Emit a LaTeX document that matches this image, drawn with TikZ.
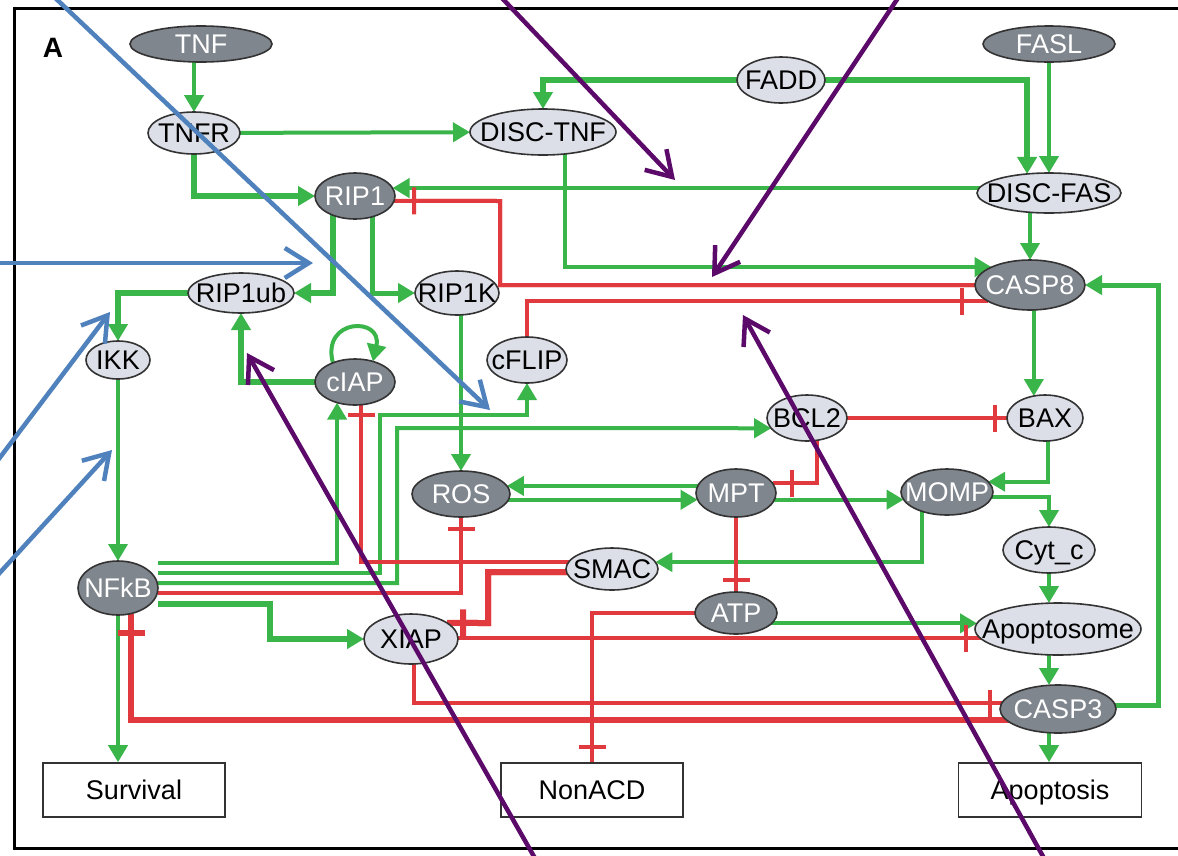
\documentclass[tikz,border=0pt]{standalone}
\usepackage{fontspec}
\setmainfont{Liberation Sans}
\usetikzlibrary{arrows.meta,shapes.geometric}
\pgfdeclarelayer{bg}
\pgfdeclarelayer{paper}
\pgfsetlayers{paper,bg,main}
\definecolor{gr}{RGB}{58,181,74}
\definecolor{rd}{RGB}{224,58,62}
\definecolor{darkfill}{RGB}{128,134,142}
\definecolor{lightfill}{RGB}{220,223,231}
\definecolor{annblue}{RGB}{79,129,189}
\definecolor{annpurple}{RGB}{92,10,106}
\newcommand\lbl[1]{\smash{\makebox[0pt]{\raisebox{-0.36em}{#1}}}}
\begin{document}
\begin{tikzpicture}[x=1pt,y=-1pt,font=\fontsize{27}{30}\selectfont,
  ell/.style={ellipse, draw=black!80, line width=1.6pt, inner sep=0pt, outer sep=0pt},
  dk/.style={ell, fill=darkfill, text=white},
  lt/.style={ell, fill=lightfill, text=black},
  bx/.style={rectangle, draw=black!80, line width=1.6pt, fill=white, inner sep=0pt},
  act/.style={gr, line width=4pt, -{Triangle[length=17pt,width=19pt]}},
  actt/.style={act, line width=6.5pt},
  inh/.style={rd, line width=4pt, postaction={draw, shorten >=#1, -{Bar[width=27pt]}}},
  ann/.style={line width=4.5pt, line cap=round, -{Straight Barb[length=24pt,width=30pt]}},
  frame/.style={line width=3pt}]
\begin{pgfonlayer}{paper}
\fill[white] (0,0) rectangle (1178,855);
\end{pgfonlayer}
\useasboundingbox (0,0) rectangle (1178,855);
% frame
\draw[frame] (14,8) -- (1180,8);
\draw[frame] (14,6.5) -- (14,849.5);
\draw[frame] (14,848) -- (1180,848);
\node[font=\fontsize{28}{30}\selectfont\bfseries] (lblA) at (53,48) {A};
% nodes
\node[dk, minimum width=142pt, minimum height=36pt] (tnf) at (201,44) {\lbl{TNF}};
\node[lt, minimum width=92pt, minimum height=42pt] (tnfr) at (194,133) {\lbl{TNFR}};
\node[lt, minimum width=146pt, minimum height=46pt] (disctnf) at (543,132) {\lbl{DISC-TNF}};
\node[lt, minimum width=88pt, minimum height=46pt] (fadd) at (781,80) {\lbl{FADD}};
\node[dk, minimum width=132pt, minimum height=36pt] (fasl) at (1049,44) {\lbl{FASL}};
\node[lt, minimum width=144pt, minimum height=40pt] (discfas) at (1049,193) {\lbl{DISC-FAS}};
\node[dk, minimum width=80pt, minimum height=46pt] (rip1) at (355,196) {\lbl{RIP1}};
\node[lt, minimum width=106pt, minimum height=40pt] (rip1ub) at (241,293) {\lbl{RIP1ub}};
\node[lt, minimum width=84pt, minimum height=44pt] (rip1k) at (457,293) {\lbl{RIP1K}};
\node[lt, minimum width=64pt, minimum height=38pt] (ikk) at (118,360) {\lbl{IKK}};
\node[dk, minimum width=80pt, minimum height=46pt] (ciap) at (355,382) {\lbl{cIAP}};
\node[lt, minimum width=80pt, minimum height=46pt] (cflip) at (527,360) {\lbl{cFLIP}};
\node[dk, minimum width=110pt, minimum height=50pt] (casp8) at (1030,285) {\lbl{CASP8}};
\node[lt, minimum width=80pt, minimum height=46pt] (bcl2) at (807,418) {\lbl{BCL2}};
\node[lt, minimum width=76pt, minimum height=46pt] (bax) at (1045,418) {\lbl{BAX}};
\node[dk, minimum width=98pt, minimum height=46pt] (ros) at (461,494) {\lbl{ROS}};
\node[dk, minimum width=80pt, minimum height=48pt] (mpt) at (736,493) {\lbl{MPT}};
\node[dk, minimum width=92pt, minimum height=46pt] (momp) at (947,492) {\lbl{MOMP}};
\node[lt, minimum width=92pt, minimum height=46pt] (cytc) at (1049,550) {\lbl{Cyt\_c}};
\node[lt, minimum width=92pt, minimum height=42pt] (smac) at (612,569) {\lbl{SMAC}};
\node[dk, minimum width=82pt, minimum height=42pt] (atp) at (736,613) {\lbl{ATP}};
\node[lt, minimum width=94pt, minimum height=50pt] (xiap) at (411,639) {\lbl{XIAP}};
\node[dk, minimum width=80pt, minimum height=54pt] (nfkb) at (118,588) {\lbl{NFkB}};
\node[lt, minimum width=166pt, minimum height=52pt] (apopt) at (1058,629) {\lbl{Apoptosome}};
\node[dk, minimum width=116pt, minimum height=48pt] (casp3) at (1058,709) {\lbl{CASP3}};
\node[bx, minimum width=182pt, minimum height=54pt] (surv) at (134,790) {\lbl{Survival}};
\node[bx, minimum width=182pt, minimum height=54pt] (nonacd) at (592,790) {\lbl{NonACD}};
\node[bx, minimum width=183pt, minimum height=54pt] (apop) at (1050,790) {\lbl{Apoptosis}};
\begin{pgfonlayer}{bg}
% activations
\draw[act] (tnfr.center |- tnf.center) -- (tnfr);
\draw[act] (tnfr) -- (disctnf);
\draw[actt] (tnfr) |- (rip1);
\draw[actt] (fadd) -| (disctnf);
\draw[act, line width=5.5pt] (fadd) -| (discfas.139);
\draw[act] (fasl) -- (discfas);
\draw[act] (discfas.center |- rip1.12) -- (rip1.12);
\draw[act] (casp8.north |- discfas.center) -- (casp8.north);
\draw[act] ([xshift=22pt]disctnf.center) |- (casp8.155);
\draw[actt] ([xshift=-22pt]rip1.center) |- (rip1ub);
\draw[act, line width=5pt] ([xshift=17pt]rip1.center) |- (rip1k);
\draw[actt] (rip1ub) -| (ikk);
\draw[act, line width=3.5pt] (ikk) -- (nfkb);
\draw[actt] (ciap) -| (rip1ub);
\draw[act] (ciap.139) .. controls +(-12,-45) and +(10,-45) .. (ciap.49);
\draw[act] (ros.north |- rip1k.center) -- (ros);
\draw[act] ([yshift=25pt]nfkb.east) -| (ciap.229);
\draw[act] ([yshift=15pt]nfkb.east) -| (380,415) -| (cflip);
\draw[act] ([yshift=5pt]nfkb.east) -| (397,428) -- (bcl2.196);
\draw[actt] ([yshift=-16pt]nfkb.east) -- (270,604) |- (xiap);
\draw[act] (nfkb) -- (nfkb |- surv.north);
\draw[act] (mpt.center |- ros.10) -- (ros.10);
\draw[act] (ros.center |- mpt.190) -- (mpt.190);
\draw[act] (mpt.center |- momp.190) -- (momp.190);
\draw[act] ([xshift=3pt]bax.center) |- (momp.14);
\draw[act] ([yshift=-5pt]momp.center) -| (cytc);
\draw[act] ([xshift=-25pt]momp.center) |- (smac.9);
\draw[act] (bax.117 |- casp8.center) -- (bax.117);
\draw[act] (cytc) -- (cytc |- apopt.north);
\draw[act] (atp.center |- apopt.176) -- (apopt.176);
\draw[act] (cytc.center |- apopt.center) -- (cytc.center |- casp3.north);
\draw[act] (cytc.center |- casp3.center) -- (cytc.center |- apop.north);
\draw[act, line width=5pt] ([yshift=4pt]casp3.center) -| (1158,285) -- (casp8);
% inhibitions
\draw[inh=18pt] (casp8.center) -| (500,201) -- (rip1.353);
\draw[inh=24pt] (cflip) |- (casp8.201);
\draw[inh=10pt] (bcl2) -- (bax);
\draw[inh=17pt] ([xshift=10pt]bcl2.center) |- (mpt.15);
\draw[inh=10pt] (mpt) -- (atp);
\draw[inh=8pt] ([yshift=7pt]smac.center) -| (ciap.285);
\draw[inh=10pt] ([yshift=-5pt]nfkb.east) -| (ros);
\draw[inh=13pt, line width=6pt] ([yshift=-3pt]smac.center) -| (488,623) -- (xiap.24);
\draw[inh=13pt] (xiap.center |- apopt.187) -- (apopt.187);
\draw[inh=10pt] ([xshift=3pt]xiap.center) |- (casp3.174);
\draw[inh=16pt, line width=6pt] ([yshift=-11pt]casp3.center) -| (nfkb.297);
\draw[inh=13pt] (atp) -| (nonacd);
\end{pgfonlayer}
% annotation arrows
\draw[ann, annblue] (50,-7) -- (490,410);
\draw[ann, annblue] (-5,263) -- (313,263);
\draw[ann, annblue] (-5,464) -- (110,312);
\draw[ann, annblue] (-5,578) -- (112,450);
\draw[ann, annpurple] (500,-4) -- (675,180);
\draw[ann, annpurple] (900,-5) -- (712,277);
\draw[ann, annpurple] (536,860) -- (247,353);
\draw[ann, annpurple] (1045,860) -- (743,315);
\end{tikzpicture}
\end{document}
